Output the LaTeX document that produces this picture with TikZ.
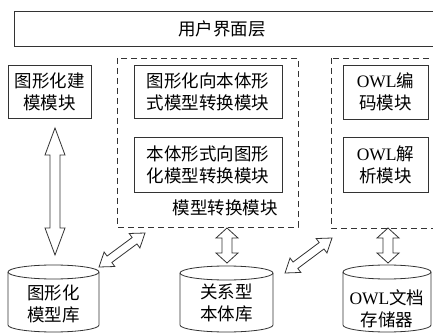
\documentclass[tikz,border=0pt]{standalone}
\usepackage{fontspec}
\setmainfont{Liberation Serif}
\newfontfamily\cjk{Noto Sans CJK SC}
\usetikzlibrary{calc}
\newcommand\owl{{\rmfamily OWL}}
\newcommand\hollowdbl[5]{%
  \coordinate (hdA) at (#1); \coordinate (hdB) at (#2);
  \coordinate (hd1) at ($(hdA)!#5!(hdB)$);
  \coordinate (hd2) at ($(hdB)!#5!(hdA)$);
  \draw[ln, fill=white] (hdA) -- ($(hd1)!#4!90:(hdB)$) -- ($(hd1)!#3!90:(hdB)$)
    -- ($(hd2)!#3!-90:(hdA)$) -- ($(hd2)!#4!-90:(hdA)$) -- (hdB)
    -- ($(hd2)!#4!90:(hdA)$) -- ($(hd2)!#3!90:(hdA)$)
    -- ($(hd1)!#3!-90:(hdB)$) -- ($(hd1)!#4!-90:(hdB)$) -- cycle;}
\newcommand\cyl[5]{% cx, r, ytop, ybot, ry
  \draw[ln, fill=white] (#1-#2,#3) -- (#1-#2,#4) arc[start angle=180, end angle=360, x radius=#2, y radius=#5] -- (#1+#2,#3);
  \draw[ln] (#1,#3) ellipse[x radius=#2, y radius=#5];}
\tikzset{
  ln/.style={draw=black!80, line width=0.8pt},
  box/.style={ln, inner sep=0pt, align=center},
  dbox/.style={ln, dash pattern=on 6pt off 4pt},
  txt/.style={align=center, inner sep=0pt},
}
\begin{document}
\begin{tikzpicture}[x=1pt,y=1pt, font=\cjk\fontsize{17.5}{22}\selectfont]
\clip (0,0) rectangle (433,332);
\fill[white] (0,0) rectangle (433,332);
% user interface layer
\draw[ln] (14,321) rectangle (445,286);
\node[txt] (ui) at (222,303.5) {用户界面层};
% left module
\node[box, minimum width=83pt, minimum height=53pt] (gm) at (49.5,240.5) {图形化建\\模模块};
% model transform group
\draw[dbox] (117,274) rectangle (298,105);
\node[box, minimum width=148pt, minimum height=53pt] (t1) at (208,240.5) {图形化向本体形\\式模型转换模块};
\node[box, minimum width=148pt, minimum height=55pt] (t2) at (208,167.5) {本体形式向图形\\化模型转换模块};
\node[txt] (tl) at (225,124) {模型转换模块};
% OWL group
\draw[dbox] (331,274) rectangle (445,104);
\node[box, minimum width=85pt, minimum height=54pt] (o1) at (385.5,240) {\owl 编\\码模块};
\node[box, minimum width=85pt, minimum height=55pt] (o2) at (385.5,167.5) {\owl 解\\析模块};
% cylinders
\cyl{53.5}{45.5}{60}{7}{7}
\node[txt] (db1) at (53.5,28) {图形化\\模型库};
\cyl{226.5}{46.5}{59}{7}{7}
\node[txt] (db2) at (226.5,29) {关系型\\本体库};
\cyl{387}{44}{60}{7}{7}
\node[txt] (db3) at (387,23) {\owl 文档\\存储器};
% arrows
\hollowdbl{55,204}{55,77}{5pt}{10pt}{27pt}
\hollowdbl{227,104}{227,69}{5pt}{11pt}{10pt}
\hollowdbl{388,104}{388,69}{5pt}{11pt}{10pt}
\hollowdbl{99,65}{145,99}{4pt}{9pt}{13pt}
\hollowdbl{285,59}{332,94}{4pt}{9pt}{13pt}
\end{tikzpicture}
\end{document}
